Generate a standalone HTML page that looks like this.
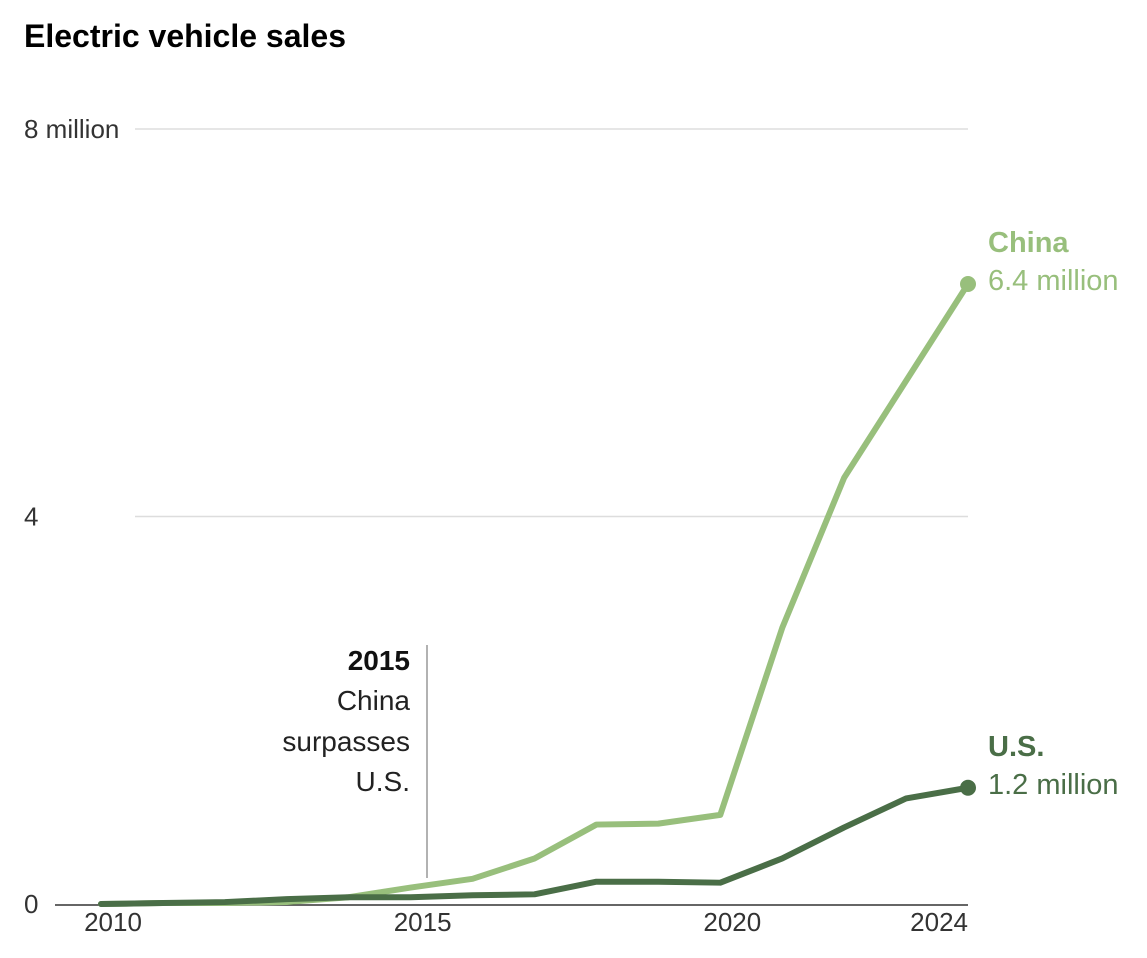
<!DOCTYPE html>
<html><head><meta charset="utf-8"><style>
body{margin:0;background:#fff;font-family:"Liberation Sans",sans-serif}
</style></head><body>
<svg width="1147" height="953" xmlns="http://www.w3.org/2000/svg">
<text x="24" y="47" font-size="32" font-weight="bold" fill="#000">Electric vehicle sales</text>
<g id="grid"></g>
<g id="xaxis"></g>
<g>
<line x1="427" y1="645" x2="427" y2="878" stroke="#666" stroke-width="1"/>
<text x="410" y="670" font-size="28" font-weight="bold" text-anchor="end" fill="#111">2015</text>
<text x="410" y="710" font-size="28" text-anchor="end" fill="#222">China</text>
<text x="410" y="751" font-size="28" text-anchor="end" fill="#222">surpasses</text>
<text x="410" y="791" font-size="28" text-anchor="end" fill="#222">U.S.</text>
</g>
<g id="lines"></g>
</svg>
<script>
const years=[2010,2011,2012,2013,2014,2015,2016,2017,2018,2019,2020,2021,2022,2023,2024];
const china=[0,0.01,0.01,0.02,0.07,0.17,0.26,0.47,0.82,0.83,0.92,2.85,4.4,5.4,6.4];
const us=[0,0.01,0.02,0.05,0.07,0.07,0.09,0.1,0.23,0.23,0.22,0.47,0.79,1.09,1.2];
const yTicks=[0,4,8];
const yTickLabels=["0","4","8 million"];
const xTicks=[2010,2015,2020,2024];
const NS="http://www.w3.org/2000/svg";
const x=v=>101+(v-2010)*(968-101)/14;
const y=v=>904-v*(904-129)/8;
function mk(t,a,p){const e=document.createElementNS(NS,t);for(const k in a)e.setAttribute(k,a[k]);p.appendChild(e);return e;}
const grid=document.getElementById('grid');
yTicks.forEach((t,i)=>{
 if(t>0){const l=mk('line',{x1:135,x2:968,y1:y(t),y2:y(t),stroke:'#ddd','stroke-width':1.5},grid);
 
 }
 const tx=mk('text',{x:24,y:y(t)+9,'font-size':26,fill:'#333'},grid);tx.textContent=yTickLabels[i];
 
 
});
const xa=document.getElementById('xaxis');
const base=mk('line',{x1:55,x2:968,y1:905,y2:905,stroke:'#333','stroke-width':1.5},xa);


xTicks.forEach((t,i)=>{
 const last=i===xTicks.length-1;
 const tx=mk('text',{x:last?968:x(t)+12,y:931,'font-size':26,fill:'#333','text-anchor':last?'end':'middle'},xa);tx.textContent=t;
 
 
});
const lg=document.getElementById('lines');
function series(vals,col,name,label){
 const p=mk('polyline',{points:vals.map((v,i)=>x(years[i])+','+y(v)).join(' '),fill:'none',stroke:col,'stroke-width':6,'stroke-linejoin':'round','stroke-linecap':'round'},lg);
 
 
 const last=vals[vals.length-1],cx=x(years[years.length-1]),cy=y(last);
 const c=mk('circle',{cx:cx,cy:cy,r:8,fill:col},lg);
 
 
 const t1=mk('text',{x:988,y:cy-32,'font-size':29,'font-weight':'bold',fill:col},lg);t1.textContent=label;
 
 
 const t2=mk('text',{x:988,y:cy+6,'font-size':29,fill:col},lg);t2.textContent=last.toFixed(1)+' million';
 
 
}
series(china,'#98bf7c','china','China');
series(us,'#4a6e47','us','U.S.');
</script>
</body></html>
